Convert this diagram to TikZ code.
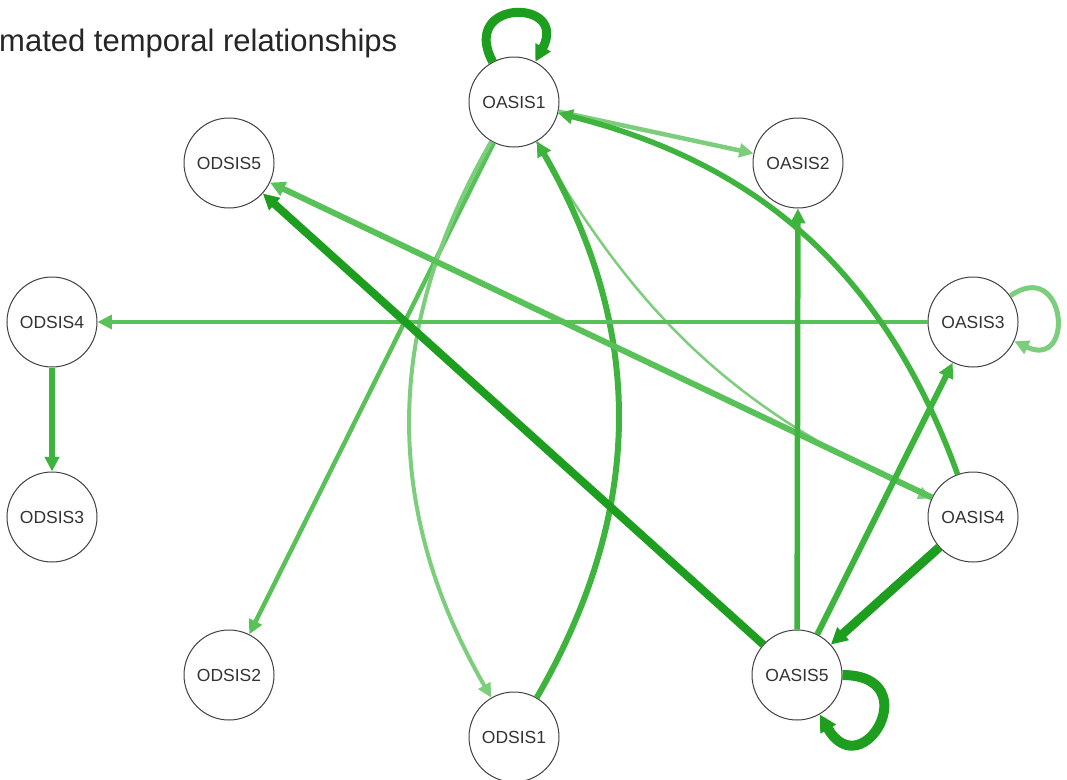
\documentclass[tikz,border=0pt]{standalone}
\usepackage{fontspec}
\setmainfont{Liberation Sans}
\usetikzlibrary{automata, positioning, arrows.meta}

\definecolor{edgedark}{RGB}{30,158,30}
\definecolor{edgemid}{RGB}{62,180,62}
\definecolor{edgesoft}{RGB}{88,193,88}
\definecolor{edgelight}{RGB}{124,206,124}

\begin{document}
\begin{tikzpicture}[x=1pt, y=-1pt, node distance=100pt, on grid, >={Triangle[length=12pt 0.5, width=11pt 0.6]},
    every state/.style={draw=black!75, line width=1pt, fill=white, minimum size=90pt, inner sep=0pt, font=\fontsize{17.5}{20}\selectfont, text=black!80},
    wdark/.style={draw=edgedark}, wmid/.style={draw=edgemid},
    wsoft/.style={draw=edgesoft}, wlight/.style={draw=edgelight}]
    \useasboundingbox (0,0) rectangle (1067,779);

    % Title
    \node[anchor=base west, inner sep=0pt, font=\fontsize{31}{36}\selectfont, text=black!85] (title) at (-1,51) {mated temporal relationships};

    % Nodes
    \node[state] (a1) at (514,102) {OASIS1};
    \node[state] (a2) [below right=61pt and 284pt of a1] {OASIS2};
    \node[state] (a3) [below right=220pt and 459pt of a1] {OASIS3};
    \node[state] (a4) [below=195pt of a3] {OASIS4};
    \node[state] (a5) [below right=573pt and 283pt of a1] {OASIS5};
    \node[state] (d1) [below=635pt of a1] {ODSIS1};
    \node[state] (d2) [left=568pt of a5] {ODSIS2};
    \node[state] (d3) [left=921pt of a4] {ODSIS3};
    \node[state] (d4) [left=921pt of a3] {ODSIS4};
    \node[state] (d5) [left=569pt of a2] {ODSIS5};

    % Edges
    \path[->]
        (a1) edge [wdark, line width=9pt, out=118, in=62, min distance=72pt] (a1)
             edge [wlight, line width=4.5pt] (a2)
             edge [wsoft, line width=4.5pt] (d2)
             edge [wlight, line width=4pt, bend right=30] (d1)
             edge [wlight, line width=2.5pt, bend right=18] (a4)
        (d1) edge [wmid, line width=6pt, bend right=30] (a1)
        (a3) edge [wlight, line width=5pt, out=35, in=-25, min distance=68pt] (a3)
             edge [wsoft, line width=4.5pt] (d4)
        (a4) edge [wmid, line width=5.5pt, bend right=28] (a1)
             edge [wsoft, line width=6pt] (d5)
             edge [wdark, line width=9pt] (a5)
        (a5) edge [wdark, line width=10pt, out=0, in=-60, min distance=85pt] (a5)
             edge [wdark, line width=8pt] (d5)
             edge [wmid, line width=5.5pt] (a2)
             edge [wmid, line width=6pt] (a3)
        (d4) edge [wmid, line width=5.5pt] (d3);
\end{tikzpicture}
\end{document}
